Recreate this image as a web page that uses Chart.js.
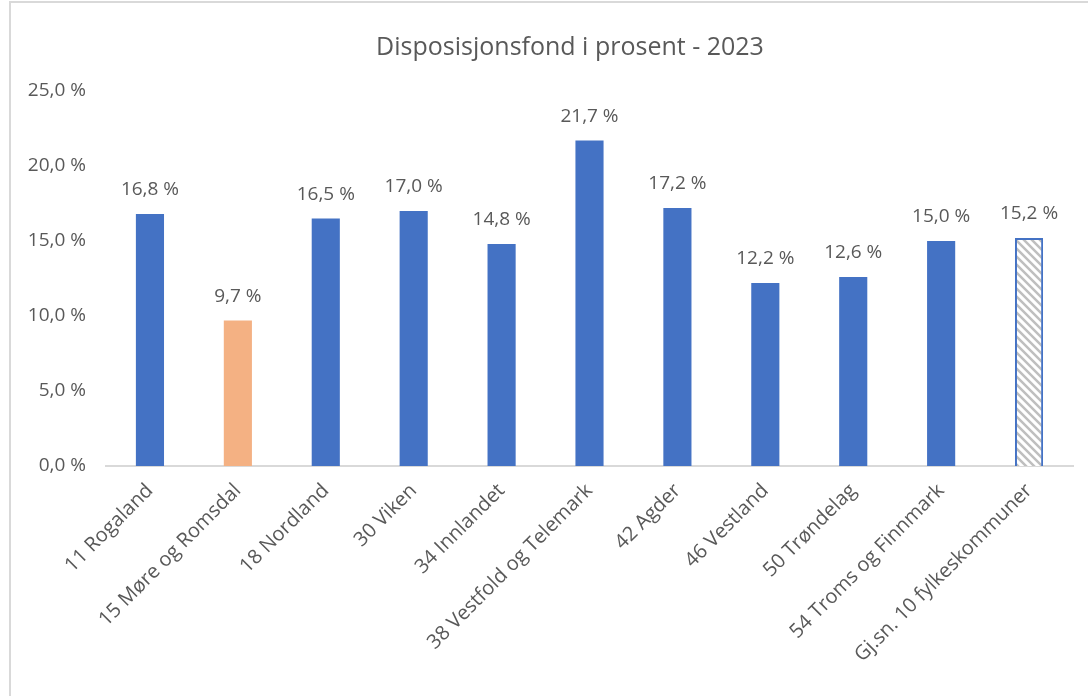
<!DOCTYPE html>
<html>
<head>
<meta charset="utf-8">
<script src="https://cdn.jsdelivr.net/npm/chart.js@4.4.1/dist/chart.umd.min.js"></script>
<style>
    body { margin: 0; background: #fff; }
    #frame { position: absolute; left: 9px; top: 1px; width: 1100px; height: 720px; border-left: 2px solid #d9d9d9; border-top: 2px solid #d9d9d9; }
    #wrap { position: absolute; left: 0; top: 0; width: 1088px; height: 696px; }
</style>
</head>
<body>
<div id="frame"></div>
<div id="wrap"><canvas id="chartFond"></canvas></div>
<script>
const categories = ["11 Rogaland", "15 Møre og Romsdal", "18 Nordland", "30 Viken", "34 Innlandet",
    "38 Vestfold og Telemark", "42 Agder", "46 Vestland", "50 Trøndelag", "54 Troms og Finnmark", "Gj.sn. 10 fylkeskommuner"]
const values = [16.8, 9.7, 16.5, 17.0, 14.8, 21.7, 17.2, 12.2, 12.6, 15.0, 15.2]
const titleText = "Disposisjonsfond i prosent - 2023"

const blue = "#4472C4"
const orange = "#F4B183"
const textColor = "#595959"
const fontFamily = "'Open Sans', sans-serif"

FormatPercent = v => v.toFixed(1).replace(".", ",") + " %"

//#region Pattern for average bar
MakeHatch = () => {
    let c = document.createElement("canvas")
    c.width = 8
    c.height = 8
    let g = c.getContext("2d")
    g.fillStyle = "#fff"
    g.fillRect(0, 0, 8, 8)
    g.strokeStyle = "#bfbfbf"
    g.lineWidth = 2.5
    g.beginPath()
    g.moveTo(-2, -2); g.lineTo(10, 10)
    g.moveTo(-6, 2); g.lineTo(6, 14)
    g.moveTo(2, -6); g.lineTo(14, 6)
    g.stroke()
    return g.createPattern(c, "repeat")
}
//#endregion

const hatch = MakeHatch()
const fills = categories.map((c, i) => i === 1 ? orange : (i === categories.length - 1 ? hatch : blue))
const borders = categories.map((c, i) => i === categories.length - 1 ? 2 : 0)

//#region Plugins
const valueLabels = {
    id: "valueLabels",
    afterDatasetsDraw(chart) {
        let ctx = chart.ctx
        ctx.save()
        ctx.font = "19px " + fontFamily
        ctx.fillStyle = textColor
        ctx.textAlign = "center"
        ctx.textBaseline = "middle"
        chart.getDatasetMeta(0).data.forEach((bar, i) => {
            ctx.fillText(FormatPercent(values[i]), bar.x, bar.y - 24)
        })
        ctx.restore()
    }
}

const chartTitle = {
    id: "chartTitle",
    afterDraw(chart) {
        let ctx = chart.ctx
        ctx.save()
        ctx.font = "25px " + fontFamily
        ctx.fillStyle = textColor
        ctx.textAlign = "center"
        ctx.textBaseline = "middle"
        ctx.fillText(titleText, 570, 48)
        ctx.restore()
    }
}
//#endregion

new Chart(document.getElementById("chartFond"), {
    type: "bar",
    data: {
        labels: categories,
        datasets: [{
            data: values,
            backgroundColor: fills,
            borderColor: blue,
            borderWidth: borders,
            categoryPercentage: 1,
            barPercentage: 0.32
        }]
    },
    options: {
        responsive: true,
        maintainAspectRatio: false,
        animation: false,
        layout: { padding: { left: 20, right: 15, top: 91, bottom: 0 } },
        plugins: {
            legend: { display: false },
            tooltip: { enabled: false },
            title: { display: false }
        },
        scales: {
            x: {
                grid: { display: false },
                border: { display: true, color: "#d9d9d9", width: 2 },
                ticks: {
                    color: textColor,
                    font: { family: fontFamily, size: 20 },
                    minRotation: 45,
                    maxRotation: 45,
                    padding: 5
                },
                afterFit: scale => { scale.height = 230 }
            },
            y: {
                min: 0,
                max: 25,
                grid: { display: false, drawTicks: false },
                border: { display: false },
                ticks: {
                    stepSize: 5,
                    color: textColor,
                    font: { family: fontFamily, size: 19 },
                    padding: 20,
                    callback: v => FormatPercent(v)
                },
                afterFit: scale => { scale.width = 86 }
            }
        }
    },
    plugins: [valueLabels, chartTitle]
})
</script>
</body>
</html>
